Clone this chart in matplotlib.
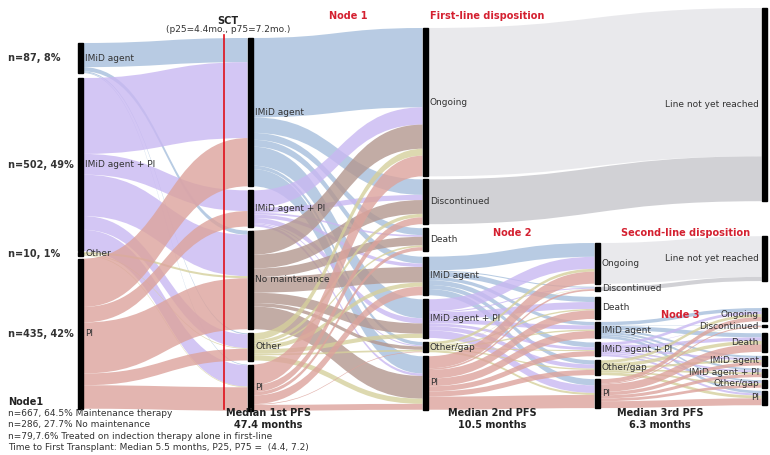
import matplotlib.pyplot as plt
from matplotlib.path import Path
from matplotlib.patches import PathPatch, Rectangle

# ---- data (patients) ----
induction = ["IMiD agent", "IMiD agent + PI", "Other", "PI"]
induction_n = ["n=87, 8%", "n=502, 49%", "n=10, 1%", "n=435, 42%"]
node1 = ["IMiD agent", "IMiD agent + PI", "No maintenance", "Other", "PI"]
first_line = ["Ongoing", "Discontinued", "Death", "IMiD agent", "IMiD agent + PI", "Other/gap", "PI"]
second_line = ["Ongoing", "Discontinued", "Death", "IMiD agent", "IMiD agent + PI", "Other/gap", "PI"]
third_line = ["Line not yet reached", "Line not yet reached", "Ongoing", "Discontinued", "Death",
              "IMiD agent", "IMiD agent + PI", "Other/gap", "PI"]

# rows = source node, cols = target node
induction_to_node1 = [[70, 0, 12, 3, 2],
                      [220, 60, 120, 40, 62],
                      [0, 0, 6, 2, 2],
                      [140, 45, 148, 34, 68]]
node1_to_first = [[230, 45, 20, 20, 55, 10, 50],
                  [50, 15, 5, 10, 15, 3, 7],
                  [70, 40, 25, 45, 30, 10, 66],
                  [20, 10, 5, 12, 12, 5, 15],
                  [60, 20, 10, 25, 0, 2, 17]]
first_not_reached = [430, 130]          # Ongoing, Discontinued -> line not yet reached
node2_to_second = [[40, 3, 15, 10, 14, 12, 18],
                   [35, 3, 20, 12, 8, 12, 22],
                   [8, 1, 4, 4, 3, 4, 6],
                   [35, 5, 25, 22, 15, 15, 38]]
second_not_reached = [118, 12]
node3_to_third = [[10, 1, 12, 6, 6, 5, 8],
                  [8, 1, 10, 6, 5, 4, 6],
                  [8, 1, 10, 6, 5, 5, 8],
                  [12, 3, 22, 10, 9, 8, 20]]

# ---- layout ----
col_x = [80, 250, 425, 597, 764]
col_gaps = [[43, 5, 1, 3],
            [38, 4, 4, 4, 4],
            [28, 3, 4, 6, 4, 4, 4],
            [243, 3, 6, 3, 4, 4, 4],
            [8, 35, 27, 4, 6, 4, 3, 3, 3]]
k = 0.345   # px per patient
bar_w = 5

colors = {"IMiD agent": "#a6bfdc", "IMiD agent + PI": "#c9b8f2", "PI": "#dca39c",
          "Other": "#d5d09c", "Other/gap": "#d5d09c", "No maintenance": "#b3978f",
          "Ongoing": "#e4e4e8", "Discontinued": "#c6c6cb"}

columns = [induction, node1, first_line, second_line, third_line]
nodes = []   # (col, idx)
flows = []   # (src, dst, value)


def nid(c, i):
    return nodes.index((c, i))


for c, names in enumerate(columns):
    for i in range(len(names)):
        nodes.append((c, i))


def add_matrix(c0, off0, c1, off1, mat):
    for i, row in enumerate(mat):
        for j, v in enumerate(row):
            if v > 0:
                flows.append((nid(c0, off0 + i), nid(c1, off1 + j), v))


add_matrix(0, 0, 1, 0, induction_to_node1)
add_matrix(1, 0, 2, 0, node1_to_first)
flows.append((nid(2, 0), nid(4, 0), first_not_reached[0]))
flows.append((nid(2, 1), nid(4, 0), first_not_reached[1]))
add_matrix(2, 3, 3, 0, node2_to_second)
flows.append((nid(3, 0), nid(4, 1), second_not_reached[0]))
flows.append((nid(3, 1), nid(4, 1), second_not_reached[1]))
add_matrix(3, 3, 4, 2, node3_to_third)

# node sizes and positions
size = {}
for n in range(len(nodes)):
    vin = sum(v for s, t, v in flows if t == n)
    vout = sum(v for s, t, v in flows if s == n)
    size[n] = max(vin, vout)
top = {}
for c, names in enumerate(columns):
    y = 0
    for i in range(len(names)):
        y += col_gaps[c][i]
        n = nid(c, i)
        top[n] = y
        y += size[n] * k

fig = plt.figure(figsize=(7.7, 4.55), dpi=100)
ax = fig.add_axes([0, 0, 1, 1])
ax.set_xlim(0, 770)
ax.set_ylim(455, 0)
ax.axis('off')

# ribbons
out_off = {n: top[n] for n in size}
in_off = {n: top[n] for n in size}
order_out = sorted(flows, key=lambda f: (top[f[0]], top[f[1]]))
src_y = {}
for f in order_out:
    src_y[id(f)] = out_off[f[0]]
    out_off[f[0]] += f[2] * k
order_in = sorted(flows, key=lambda f: (top[f[1]], top[f[0]]))
dst_y = {}
for f in order_in:
    dst_y[id(f)] = in_off[f[1]]
    in_off[f[1]] += f[2] * k

for f in flows:
    s, t, v = f
    x0 = col_x[nodes[s][0]] + bar_w / 2
    x1 = col_x[nodes[t][0]] - bar_w / 2
    xm = (x0 + x1) / 2
    y0, y1 = src_y[id(f)], dst_y[id(f)]
    h = v * k
    verts = [(x0, y0), (xm, y0), (xm, y1), (x1, y1),
             (x1, y1 + h), (xm, y1 + h), (xm, y0 + h), (x0, y0 + h), (x0, y0)]
    codes = [Path.MOVETO, Path.CURVE4, Path.CURVE4, Path.CURVE4,
             Path.LINETO, Path.CURVE4, Path.CURVE4, Path.CURVE4, Path.CLOSEPOLY]
    name = columns[nodes[s][0]][nodes[s][1]]
    ax.add_patch(PathPatch(Path(verts, codes), facecolor=colors[name], edgecolor='none',
                           alpha=0.8, zorder=1))

# red SCT line
ax.plot([224, 224], [35, 409], color='#e0101a', lw=1.2, zorder=2)

# node bars + labels
for n, (c, i) in enumerate(nodes):
    h = max(size[n] * k, 1.5)
    ax.add_patch(Rectangle((col_x[c] - bar_w / 2, top[n]), bar_w, h, color='black', zorder=3))
    ym = top[n] + h / 2
    name = columns[c][i]
    if c < 4:
        ax.text(col_x[c] + 5, ym, name, fontsize=6.5, color='#333333', va='center', ha='left', zorder=4)
    else:
        ax.text(col_x[c] - 5, ym, name, fontsize=6.5, color='#333333', va='center', ha='right', zorder=4)
    if c == 0:
        ax.text(8, ym, induction_n[i], fontsize=7, fontweight='bold', color='#333333',
                va='center', ha='left')

red = '#d42030'
ax.text(348, 16, "Node 1", color=red, fontsize=7, fontweight='bold', ha='center', va='center')
ax.text(430, 16, "First-line disposition", color=red, fontsize=7, fontweight='bold', ha='left', va='center')
ax.text(512, 233, "Node 2", color=red, fontsize=7, fontweight='bold', ha='center', va='center')
ax.text(621, 233, "Second-line disposition", color=red, fontsize=7, fontweight='bold', ha='left', va='center')
ax.text(680, 315, "Node 3", color=red, fontsize=7, fontweight='bold', ha='center', va='center')
ax.text(228, 21, "SCT", fontsize=7, fontweight='bold', ha='center', va='center', color='#222222')
ax.text(228, 30, "(p25=4.4mo., p75=7.2mo.)", fontsize=6.5, ha='center', va='center', color='#333333')

ax.text(8, 402, "Node1", fontsize=7, fontweight='bold', ha='left', va='center', color='#222222')
notes = ["n=667, 64.5% Maintenance therapy",
         "n=286, 27.7% No maintenance",
         "n=79,7.6% Treated on indection therapy alone in first-line",
         "Time to First Transplant: Median 5.5 months, P25, P75 =  (4.4, 7.2)"]
for j, s in enumerate(notes):
    ax.text(8, 413 + j * 11.6, s, fontsize=6.5, ha='left', va='center', color='#333333')

for x, a, b in [(268, "Median 1st PFS", "47.4 months"),
                (492, "Median 2nd PFS", "10.5 months"),
                (660, "Median 3rd PFS", "6.3 months")]:
    ax.text(x, 413, a, fontsize=7, fontweight='bold', ha='center', va='center', color='#222222')
    ax.text(x, 425, b, fontsize=7, fontweight='bold', ha='center', va='center', color='#222222')

fig.savefig("out.png", dpi=100)
